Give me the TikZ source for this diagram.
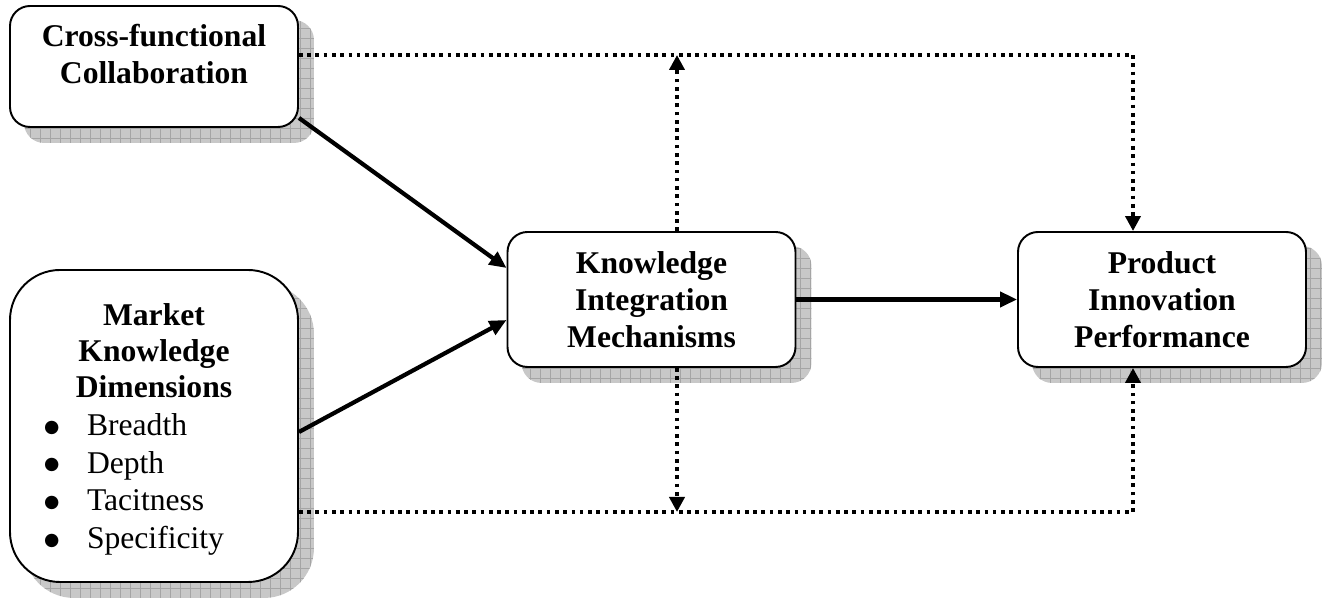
\documentclass[tikz,border=0pt]{standalone}
\usepackage{fontspec}
\setmainfont{Liberation Serif}
\newfontfamily\bulletfont{DejaVu Sans}
\usepackage{tikz}
\usetikzlibrary{arrows.meta, positioning, calc, backgrounds}
\definecolor{shadefill}{RGB}{200,200,200}
\definecolor{shadeline}{RGB}{165,165,165}
\newcommand{\bigbullet}{\raisebox{0.1em}{\bulletfont\fontsize{10}{10}\selectfont ●}}
\tikzset{
  box/.style={rectangle, draw=black, fill=white, line width=1.1pt,
    minimum width=5.76cm, minimum height=2.7cm, align=center,
    font=\fontsize{18}{21}\selectfont\bfseries, rounded corners=0.4cm,
    inner sep=0pt},
  arrow/.style={-{Triangle[length=0.34cm, width=0.3cm]}, line width=2.4pt, color=black},
  dotline/.style={line width=2.1pt, dash pattern=on 2.1pt off 2.6pt, color=black},
  dotarrow/.style={dotline, -{Triangle[length=0.3cm, width=0.3cm]}},
  shadegridline/.style={step=0.2, line width=0.4pt, color=shadeline}
}

\begin{document}
\begin{tikzpicture}
  \useasboundingbox (0,0) rectangle (26.56,11.96);
  % Boxes
  \node[box, minimum height=2.42cm] (cfc) at (3.08,10.63)
    {Cross-functional\\Collaboration\rule[-14pt]{0pt}{0pt}};
  \node[box, minimum height=6.24cm, rounded corners=1cm,
    font=\fontsize{18}{20.5}\selectfont] (mkd) at (3.08,3.44)
    {\rule{0pt}{19pt}\textbf{Market}\\\textbf{Knowledge}\\\textbf{Dimensions}\\[1pt]
     \renewcommand{\arraystretch}{1.05}%
     \begin{tabular}[t]{@{}p{0.86cm}@{}p{3.54cm}@{}}
       \bigbullet & Breadth\\
       \bigbullet & Depth\\
       \bigbullet & Tacitness\\
       \bigbullet & Specificity
     \end{tabular}};
  \node[box] (kim) at (13.03,5.97) {Knowledge\\Integration\\Mechanisms};
  \node[box] (pip) at (23.24,5.97) {Product\\Innovation\\Performance};

  % Hatched drop shadows
  \begin{scope}[on background layer]
    \foreach \n/\r in {cfc/0.4, mkd/1.0, kim/0.4, pip/0.4}{
      \begin{scope}
        \clip[rounded corners=\r cm] ($(\n.south west)+(0.3,-0.3)$)
          rectangle ($(\n.north east)+(0.3,-0.3)$);
        \fill[shadefill] ($(\n.south west)+(0,-0.6)$) rectangle ($(\n.north east)+(0.6,0)$);
        \draw[shadegridline] ($(\n.south west)+(0,-0.6)$) grid ($(\n.north east)+(0.6,0)$);
      \end{scope}
    }
  \end{scope}

  % Main paths
  \draw[arrow] ($(cfc.south east)+(0,0.2)$) -- ($(kim.west)+(0,0.63)$);
  \draw[arrow] ($(mkd.east)+(0,-0.12)$) -- ($(kim.west)+(0,-0.41)$);
  \draw[arrow] (kim.east) -- (pip.west);

  % Moderating paths
  \coordinate (cfcout) at ($(cfc.east)+(0,0.23)$);
  \coordinate (mkdout) at ($(mkd.east)+(0,-1.72)$);
  \coordinate (kimup) at ($(kim.north)+(0.51,0)$);
  \coordinate (kimdown) at ($(kim.south)+(0.51,0)$);
  \draw[dotarrow] (cfcout) -| ($(pip.north)+(-0.58,0)$);
  \draw[dotarrow] (mkdout) -| ($(pip.south)+(-0.58,0)$);
  \draw[dotarrow] (kimup) -- (kimup |- cfcout);
  \draw[dotarrow] (kimdown) -- (kimdown |- mkdout);
\end{tikzpicture}
\end{document}
